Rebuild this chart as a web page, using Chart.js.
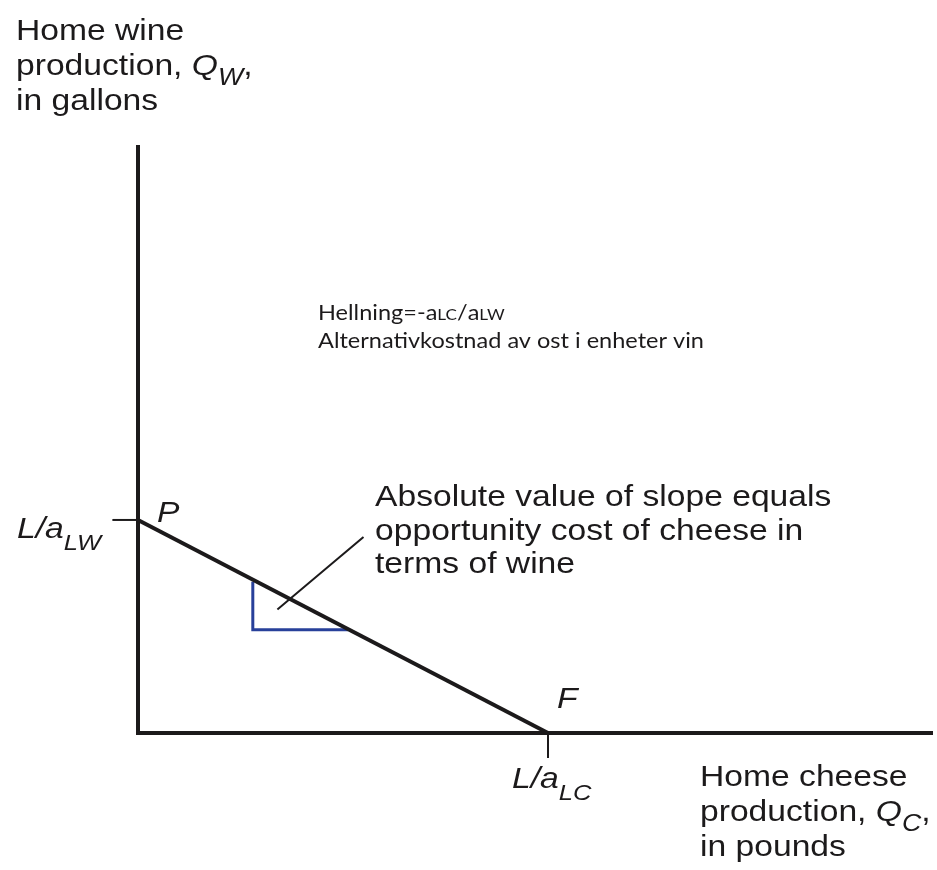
<!DOCTYPE html>
<html><head><meta charset="utf-8">
<script src="https://cdn.jsdelivr.net/npm/chart.js@4"></script>
<style>html,body{margin:0;padding:0;background:#fff}</style>
</head><body>
<canvas id="c" width="937" height="870"></canvas>
<script>
// ---- data (arbitrary units: L/aLC = 4, L/aLW = 2) ----
const xMax = 7.756;
const yMax = 5.52;
const axisX = [0, 0, xMax];
const axisY = [yMax, 0, 0];
const ppfX = [0, 4];          // P -> F
const ppfY = [2, 0];
const triX = [1.12, 1.12, 2.05];
const triY = [1.42, 0.97, 0.97];
const ptrX = [1.36, 2.2];
const ptrY = [1.16, 1.84];
const tickWX = [-0.25, 0];    // tick at L/aLW
const tickWY = [2, 2];
const tickCX = [4, 4];        // tick at L/aLC
const tickCY = [0, -0.235];

// ---- text ----
const yTitle = ["Home wine", "production, ", "in gallons"];
const xTitle = ["Home cheese", "production, ", "in pounds"];
const noteLines = ["Absolute value of slope equals", "opportunity cost of cheese in", "terms of wine"];
const slopeLine1 = ["Hellning=-", "a", "LC", "/", "a", "LW"];
const slopeLine2 = "Alternativkostnad av ost i enheter vin";

const pts = (xs, ys) => xs.map((x, i) => ({x, y: ys[i]}));
const BLACK = '#1c1a1b', BLUE = '#28409a';
const line = (xs, ys, color, w, extra) => Object.assign({
  data: pts(xs, ys), showLine: true, pointRadius: 0, borderColor: color,
  borderWidth: w, clip: false, tension: 0, fill: false
}, extra || {});

const SX = 1.16; // horizontal stretch of the Helvetica-like labels
const F = 'px "Liberation Sans", Arial, sans-serif';

function runs(ctx, x, y, list, sx) {
  ctx.save();
  ctx.translate(x, y);
  ctx.scale(sx, 1);
  let cx = 0;
  for (const r of list) {
    ctx.font = r.font;
    ctx.fillText(r.text, cx, r.dy || 0);
    cx += ctx.measureText(r.text).width + (r.kern || 0);
  }
  ctx.restore();
}

const labels = {
  id: 'labels',
  afterDatasetsDraw(chart) {
    const ctx = chart.ctx, xs = chart.scales.x, ys = chart.scales.y;
    ctx.save();
    ctx.fillStyle = BLACK;
    ctx.textBaseline = 'alphabetic';
    const R = '29' + F, I = 'italic 29' + F, S = 'italic 23' + F;
    // y title
    runs(ctx, 16, 40, [{text: yTitle[0], font: R}], SX);
    runs(ctx, 16, 75, [{text: yTitle[1], font: R}, {text: 'Q', font: I}, {text: 'W', font: S, dy: 10}, {text: ',', font: R}], SX);
    runs(ctx, 16, 110, [{text: yTitle[2], font: R}], SX);
    // x title
    runs(ctx, 700, 786, [{text: xTitle[0], font: R}], SX);
    runs(ctx, 700, 821, [{text: xTitle[1], font: R}, {text: 'Q', font: I}, {text: 'C', font: S, dy: 10}, {text: ',', font: R}], SX);
    runs(ctx, 700, 856, [{text: xTitle[2], font: R}], SX);
    // point labels
    const px = xs.getPixelForValue(ppfX[0]), py = ys.getPixelForValue(ppfY[0]);
    const fx = xs.getPixelForValue(ppfX[1]), fy = ys.getPixelForValue(ppfY[1]);
    runs(ctx, px + 19, py + 2, [{text: 'P', font: I}], SX);
    runs(ctx, fx + 9, fy - 25, [{text: 'F', font: I}], SX);
    runs(ctx, 17, py + 18, [{text: 'L/a', font: I}, {text: 'LW', font: 'italic 22' + F, dy: 12}], SX);
    runs(ctx, fx - 36, fy + 55, [{text: 'L/a', font: I}, {text: 'LC', font: 'italic 22' + F, dy: 12}], SX);
    // note
    noteLines.forEach((t, i) => runs(ctx, 375, 506 + i * 33.5, [{text: t, font: R}], SX));
    // slope note
    const G = '"Lato", "Open Sans", sans-serif';
    const nR = '22px ' + G, nS = '16px ' + G;
    ctx.font = nR;
    const w2 = ctx.measureText(slopeLine2).width;
    const sx2 = 386 / w2;
    runs(ctx, 318, 320, [
      {text: slopeLine1[0], font: nR}, {text: slopeLine1[1], font: nR}, {text: slopeLine1[2], font: nS},
      {text: slopeLine1[3], font: nR}, {text: slopeLine1[4], font: nR}, {text: slopeLine1[5], font: nS}
    ], sx2);
    runs(ctx, 318, 348, [{text: slopeLine2, font: nR}], sx2);
    ctx.restore();
  }
};

new Chart(document.getElementById('c'), {
  type: 'scatter',
  data: {
    datasets: [
      line(ppfX, ppfY, BLACK, 4, {borderCapStyle: 'butt'}),
      line(axisX, axisY, BLACK, 4, {borderJoinStyle: 'miter'}),
      line(tickWX, tickWY, BLACK, 2),
      line(tickCX, tickCY, BLACK, 2),
      line(ptrX, ptrY, BLACK, 2),
      line(triX, triY, BLUE, 3, {borderJoinStyle: 'miter'})
    ]
  },
  options: {
    responsive: false,
    animation: false,
    events: [],
    layout: {padding: {left: 138, top: 145, right: 4, bottom: 137}},
    plugins: {legend: {display: false}, tooltip: {enabled: false}},
    scales: {
      x: {type: 'linear', display: false, min: 0, max: xMax},
      y: {type: 'linear', display: false, min: 0, max: yMax}
    }
  },
  plugins: [labels]
});
</script>
</body></html>
